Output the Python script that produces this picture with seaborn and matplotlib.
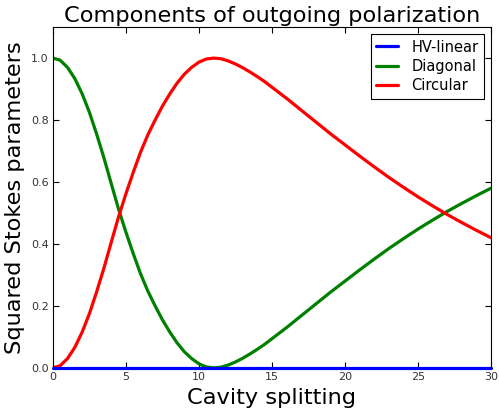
import pandas as pd
import numpy as np
import seaborn as sns
import matplotlib
matplotlib.use('Agg')
import matplotlib.pyplot as plt

splitting = [0, 0.5, 1, 1.5, 2, 2.5, 3, 3.5, 4, 4.5, 5, 5.5, 6, 6.5, 7, 7.5, 8,
             8.5, 9, 9.5, 10, 10.5, 11, 11.5, 12, 12.5, 13, 13.5, 14, 14.5, 15,
             15.5, 16, 17, 18, 19, 20, 21, 22, 23, 24, 25, 26, 27, 28, 29, 30]

hv_linear = [0.0] * len(splitting)

diagonal = [1.000, 0.993, 0.970, 0.934, 0.885, 0.825, 0.754, 0.677, 0.594,
            0.512, 0.438, 0.369, 0.304, 0.248, 0.200, 0.155, 0.116, 0.081,
            0.052, 0.030, 0.013, 0.003, 0.000, 0.002, 0.009, 0.019, 0.031,
            0.045, 0.060, 0.076, 0.094, 0.112, 0.130, 0.168, 0.206, 0.244,
            0.280, 0.316, 0.351, 0.385, 0.417, 0.448, 0.477, 0.505, 0.531,
            0.556, 0.580]

circular = [0.000, 0.007, 0.030, 0.066, 0.115, 0.175, 0.246, 0.323, 0.406,
            0.488, 0.562, 0.631, 0.696, 0.752, 0.800, 0.845, 0.884, 0.919,
            0.948, 0.970, 0.987, 0.997, 1.000, 0.998, 0.991, 0.981, 0.969,
            0.955, 0.940, 0.924, 0.906, 0.888, 0.870, 0.832, 0.794, 0.756,
            0.720, 0.684, 0.649, 0.615, 0.583, 0.552, 0.523, 0.495, 0.469,
            0.444, 0.420]

series_names = ['HV-linear', 'Diagonal', 'Circular']
series_colors = ['#0000ff', '#008000', '#ff0000']

ds = pd.DataFrame({'x': splitting * 3,
                   'y': hv_linear + diagonal + circular,
                   'comp': np.repeat(series_names, len(splitting))})

sns.set_style('white', {'axes.edgecolor': 'black',
                        'xtick.direction': 'in', 'ytick.direction': 'in',
                        'xtick.bottom': True, 'ytick.left': True,
                        'text.color': 'black', 'axes.labelcolor': 'black'})

fig = plt.figure(figsize=(4.99, 4.11), dpi=100)
ax = fig.add_axes([0.106, 0.105, 0.878, 0.829])

for name, color in zip(series_names, series_colors):
    sub = ds[ds['comp'] == name]
    sns.lineplot(data=sub, x='x', y='y', color=color, linewidth=2.3,
                 label=name, estimator=None, sort=False, ax=ax)
# the flat HV-linear line sits on the bottom spine, show it whole
ax.lines[0].set_clip_on(False)
ax.lines[0].set_zorder(3)

ax.set_xlim(0, 30)
ax.set_ylim(0, 1.1)
ax.set_xticks([0, 5, 10, 15, 20, 25, 30])
ax.set_yticks([0.0, 0.2, 0.4, 0.6, 0.8, 1.0])
ax.set_yticklabels(['0.0', '0.2', '0.4', '0.6', '0.8', '1.0'])
ax.tick_params(axis='both', which='both', direction='in', length=4,
               labelsize=8, colors='black', labelcolor='#333333',
               top=True, right=True, pad=3)
for s in ax.spines.values():
    s.set_color('black')
    s.set_linewidth(0.8)

ax.set_title('Components of outgoing polarization', fontsize=16.2, pad=4)
ax.set_xlabel('Cavity splitting', fontsize=16.2, labelpad=4)
ax.set_ylabel('Squared Stokes parameters', fontsize=16.2, labelpad=4)

leg = ax.legend(loc='upper right', fontsize=10.5, fancybox=False,
                edgecolor='black', framealpha=1, handlelength=1.5,
                handletextpad=0.9, borderpad=0.4, labelspacing=0.3,
                borderaxespad=0.45)
leg.get_frame().set_linewidth(0.8)

fig.savefig('out.png', dpi=100)
